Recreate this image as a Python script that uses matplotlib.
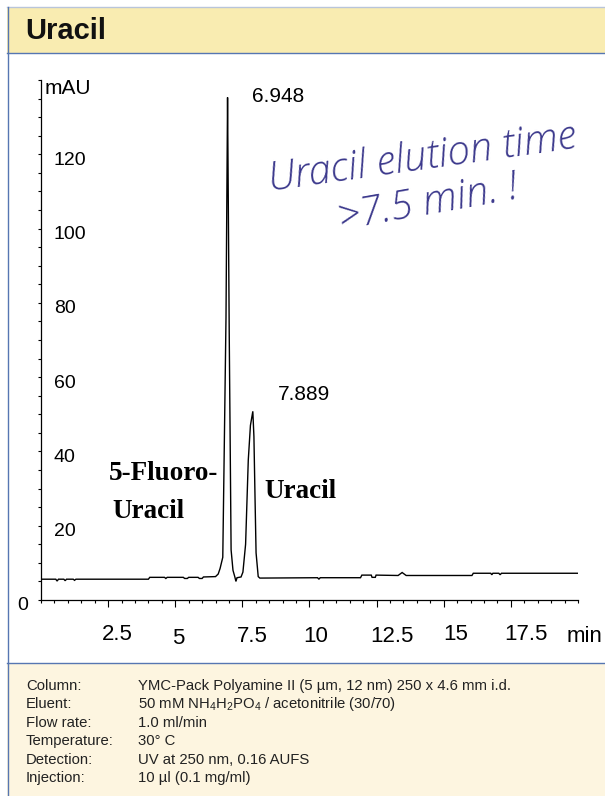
import matplotlib
matplotlib.use('Agg')
import matplotlib.pyplot as plt
from matplotlib import font_manager
from matplotlib.patches import Rectangle
from matplotlib.lines import Line2D
from matplotlib.ticker import MultipleLocator, FixedLocator, NullFormatter
from matplotlib.transforms import ScaledTranslation, blended_transform_factory
import numpy as np

# ---------------- data ----------------
time_min = [0.00, 0.55, 0.60, 0.65, 0.85, 0.90, 0.95, 1.20, 1.25, 1.30,
            4.00, 4.05, 4.60, 4.65, 4.70, 5.30, 5.35, 5.45, 5.50, 5.85,
            5.90, 6.00, 6.05, 6.50, 6.60, 6.67, 6.77, 6.82, 6.89, 6.935,
            6.948, 6.965, 7.01, 7.08, 7.15, 7.22, 7.26, 7.30, 7.45, 7.52,
            7.62, 7.72, 7.80, 7.889, 7.93, 7.97, 8.01, 8.09, 8.15, 10.30,
            10.35, 10.40, 11.90, 11.95, 12.30, 12.33, 12.45, 12.48, 13.30, 13.45,
            13.60, 16.05, 16.10, 16.75, 16.79, 16.83, 17.05, 17.10, 17.15, 20.00]
signal_mau = [5.6, 5.6, 5.1, 5.6, 5.6, 5.2, 5.6, 5.6, 5.3, 5.6,
              5.6, 6.1, 6.1, 5.8, 6.1, 6.1, 5.8, 5.8, 6.1, 6.1,
              5.8, 5.8, 6.2, 6.3, 7.0, 8.5, 11.5, 38.0, 76.0, 122.0,
              135.3, 118.0, 72.0, 13.5, 8.0, 6.2, 5.0, 6.0, 6.2, 7.5,
              15.0, 37.7, 47.0, 50.8, 44.0, 28.0, 12.7, 6.3, 5.9, 6.0,
              5.6, 6.0, 6.0, 6.7, 6.7, 6.1, 6.1, 6.7, 6.6, 7.4,
              6.6, 6.6, 7.2, 7.2, 6.8, 7.2, 7.2, 6.8, 7.2, 7.2]

peak_times = [6.948, 7.889]
peak_labels = ['6.948', '7.889']

x_tick_values = [2.5, 5, 7.5, 10, 12.5, 15, 17.5]
x_tick_labels = ['2.5', '5', '7.5', '10', '12.5', '15', '17.5']
y_tick_values = [0, 20, 40, 60, 80, 100, 120]
y_tick_labels = ['0', '20', '40', '60', '80', '100', '120']

info_labels = ['Column:', 'Eluent:', 'Flow rate:', 'Temperature:', 'Detection:', 'Injection:']
info_values = ['YMC-Pack Polyamine II (5 µm, 12 nm) 250 x 4.6 mm i.d.',
               r'50 mM NH$_4$H$_2$PO$_4$ / acetonitrile (30/70)',
               '1.0 ml/min',
               '30° C',
               'UV at 250 nm, 0.16 AUFS',
               '10 µl (0.1 mg/ml)']

# ---------------- fonts ----------------
names = {f.name for f in font_manager.fontManager.ttflist}
SANS = 'Liberation Sans' if 'Liberation Sans' in names else 'DejaVu Sans'
NARROW = 'Liberation Sans Narrow' if 'Liberation Sans Narrow' in names else SANS
SERIF = 'Liberation Serif' if 'Liberation Serif' in names else 'DejaVu Serif'
HAND = 'Open Sans' if 'Open Sans' in names else SANS
plt.rcParams['font.family'] = [SANS, 'DejaVu Sans']
plt.rcParams['mathtext.fontset'] = 'custom'
plt.rcParams['mathtext.rm'] = SANS
plt.rcParams['mathtext.it'] = SANS
plt.rcParams['mathtext.bf'] = SANS

# ---------------- layout helpers ----------------
W, H, DPI = 605, 796, 100
fig = plt.figure(figsize=(W / DPI, H / DPI), dpi=DPI)
fig.patch.set_facecolor('white')


def fx(x):
    return x / W


def fy(y):
    return 1 - y / H


def off(dx, dy):
    return ScaledTranslation(dx / DPI, dy / DPI, fig.dpi_scale_trans)


BLUE = '#5676b2'
# header band
fig.add_artist(Rectangle((fx(7), fy(53)), 1 - fx(7), (53 - 7) / H, transform=fig.transFigure,
                         facecolor='#F9ECB1', edgecolor='none', zorder=0))
# bottom info panel
fig.add_artist(Rectangle((fx(7), 0), 1 - fx(7), (796 - 663) / H, transform=fig.transFigure,
                         facecolor='#FDF5E0', edgecolor='none', zorder=0))
fig.add_artist(Line2D([fx(7), 1], [fy(7), fy(7)], transform=fig.transFigure, color='#b9c5da', lw=1.0))
fig.add_artist(Line2D([fx(7), 1], [fy(53), fy(53)], transform=fig.transFigure, color=BLUE, lw=1.0))
fig.add_artist(Line2D([fx(7), 1], [fy(663), fy(663)], transform=fig.transFigure, color=BLUE, lw=1.0))
fig.add_artist(Line2D([fx(7.5), fx(7.5)], [fy(7), 0], transform=fig.transFigure, color=BLUE, lw=1.0))

fig.text(fx(25), fy(31), 'Uracil', fontsize=21, fontweight='bold', family=SANS,
         ha='left', va='center', color='#111111')

# ---------------- chromatogram axes ----------------
ax = fig.add_axes([fx(41), fy(600), (578 - 41) / W, (600 - 80) / H])
ax.patch.set_alpha(0)
ax.set_xlim(0, 20)
ax.set_ylim(0, 140)
for s in ['top', 'right']:
    ax.spines[s].set_visible(False)
for s in ['left', 'bottom']:
    ax.spines[s].set_linewidth(0.9)
    ax.spines[s].set_color('black')

ax.plot(time_min, signal_mau, color='black', lw=1.0, solid_joinstyle='miter')

ax.xaxis.set_major_locator(FixedLocator(x_tick_values))
ax.xaxis.set_minor_locator(MultipleLocator(0.5))
ax.yaxis.set_major_locator(FixedLocator(y_tick_values))
ax.yaxis.set_minor_locator(MultipleLocator(5))
ax.xaxis.set_major_formatter(NullFormatter())
ax.yaxis.set_major_formatter(NullFormatter())
ax.tick_params(axis='x', which='major', length=5, width=0.8, direction='out')
ax.tick_params(axis='x', which='minor', length=2, width=0.8, direction='out')
ax.tick_params(axis='y', which='major', length=2.5, width=0.8, direction='out')
ax.tick_params(axis='y', which='minor', length=2, width=0.8, direction='out')

# y tick labels (0 outside, others inside the plot)
ytrans = blended_transform_factory(ax.transAxes, ax.transData)
for v, lab in zip(y_tick_values, y_tick_labels):
    if v == 0:
        ax.text(0, v, lab, transform=ytrans + off(-13, -5), ha='right', va='center',
                fontsize=14, family=NARROW)
    else:
        ax.text(0, v, lab, transform=ytrans + off(13, -6), ha='left', va='center',
                fontsize=14, family=NARROW)
ax.text(0, 1, 'mAU', transform=ax.transAxes + off(4, -8), ha='left', va='center',
        fontsize=15, family=SANS)

# x tick labels (individually shifted as in the scan)
xtrans = blended_transform_factory(ax.transData, ax.transAxes)
x_dx = [9, 3, 10, 6, 15, 12, 15]
x_dy = [-35, -39, -36, -36, -36, -35, -35]
for v, lab, dx, dy in zip(x_tick_values, x_tick_labels, x_dx, x_dy):
    ax.text(v, 0, lab, transform=xtrans + off(dx, dy), ha='center', va='center',
            fontsize=16, family=NARROW)
ax.text(1, 0, 'min', transform=ax.transAxes + off(-11, -36), ha='left', va='center',
        fontsize=16, family=SANS, clip_on=False)

# peak retention-time labels
peak_dx = [24, 25]
peak_dy = [1, 17]
for t, lab, dx, dy in zip(peak_times, peak_labels, peak_dx, peak_dy):
    h = float(np.interp(t, time_min, signal_mau))
    ax.text(t, h, lab, transform=ax.transData + off(dx, dy), ha='left', va='center',
            fontsize=15, family=SANS)

# compound names
fig.text(fx(109), fy(473), '5-Fluoro-', fontsize=19.5, fontweight='bold', family=SERIF,
         ha='left', va='center')
fig.text(fx(112), fy(511), 'Uracil', fontsize=19.5, fontweight='bold', family=SERIF,
         ha='left', va='center')
fig.text(fx(264), fy(491), 'Uracil', fontsize=19.5, fontweight='bold', family=SERIF,
         ha='left', va='center')

# handwritten note
HANDCOL = '#3b388c'
fig.text(fx(422), fy(158), 'Uracil elution time', fontsize=29, family=HAND, style='italic',
         fontweight='light', color=HANDCOL, rotation=8, rotation_mode='anchor',
         ha='center', va='center')
fig.text(fx(428), fy(203), '>7.5 min. !', fontsize=29, family=HAND, style='italic',
         fontweight='light', color=HANDCOL, rotation=10, rotation_mode='anchor',
         ha='center', va='center')

# ---------------- info panel ----------------
for i, (lab, val) in enumerate(zip(info_labels, info_values)):
    y = 686 + i * 18.4
    fig.text(fx(26), fy(y), lab, fontsize=10.7, family=SANS, color='#222222', ha='left', va='center')
    fig.text(fx(138), fy(y), val, fontsize=10.7, family=SANS, color='#222222', ha='left', va='center')

fig.savefig('out.png', dpi=DPI)
